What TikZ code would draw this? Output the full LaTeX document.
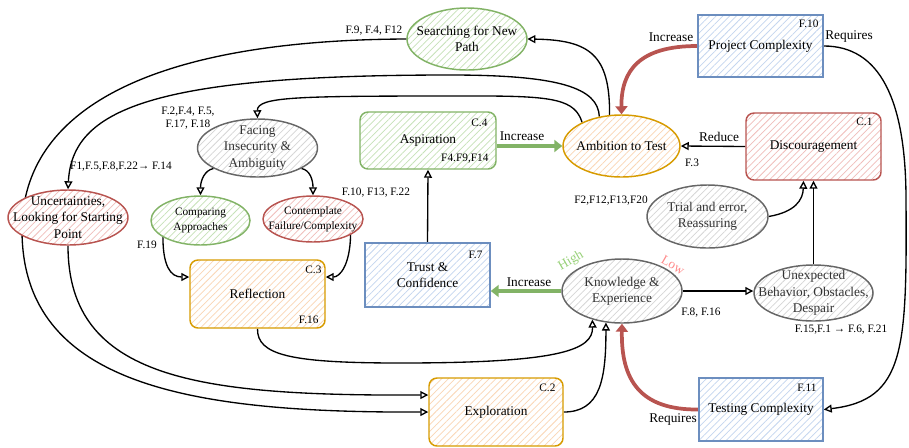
\documentclass[tikz,border=0pt]{standalone}
\usepackage{fontspec}
\setmainfont{Liberation Serif}
\usetikzlibrary{shapes.geometric,arrows.meta,patterns.meta,calc}
\pgfdeclarelayer{edgelayer}
\pgfsetlayers{edgelayer,main}
\definecolor{gS}{HTML}{82B366}
\definecolor{rS}{HTML}{B85450}
\definecolor{bS}{HTML}{6C8EBF}
\definecolor{oS}{HTML}{D79B00}
\definecolor{kS}{HTML}{666666}
\definecolor{gH}{HTML}{C6E2B8}
\definecolor{rH}{HTML}{F0BDBA}
\definecolor{bH}{HTML}{C4D6EF}
\definecolor{oH}{HTML}{FAD6B4}
\definecolor{kH}{HTML}{D6D6D6}
\definecolor{kT}{HTML}{333333}
\definecolor{hiC}{HTML}{97D077}
\definecolor{loC}{HTML}{FF8A8A}
\tikzset{
 hatch/.style={pattern={Lines[angle=45,distance=3.6pt,line width=0.55pt]}, pattern color=#1},
 shp/.style={line width=1.1pt, preaction={fill=white}, inner sep=0pt},
 ell/.style={shp, ellipse},
 box/.style={shp, rectangle},
 rbox/.style={shp, rectangle, rounded corners=6pt},
 gN/.style={draw=gS, hatch=gH},
 rN/.style={draw=rS, hatch=rH},
 bN/.style={draw=bS, hatch=bH},
 oN/.style={draw=oS, hatch=oH},
 kN/.style={draw=kS, hatch=kH},
 txt/.style={font=\fontsize{10}{12.3}\selectfont, align=center, inner sep=0pt},
 stxt/.style={font=\fontsize{8.5}{11.5}\selectfont, align=center, inner sep=0pt},
 ftxt/.style={font=\fontsize{8.5}{10}\selectfont, align=center, inner sep=0pt},
 lbl/.style={font=\fontsize{10}{12}\selectfont, inner sep=0pt},
 conn/.style={line width=1pt, -{Triangle[open,length=6pt,width=6pt]}},
 redge/.style={draw=rS, line width=2.8pt, -{Triangle[length=6pt,width=9pt]}},
 gedge/.style={draw=gS, line width=2.4pt, -{Triangle[length=6pt,width=9pt]}},
}
\begin{document}
\begin{tikzpicture}[x=0.75pt,y=-0.75pt]
\useasboundingbox (0,0) rectangle (909,447);
% nodes
\node[ell,gN,minimum width=90pt,minimum height=46.5pt] (srch) at (467,39) {};
\node[txt] (srcht) at (srch) {Searching for New\\Path};
\node[box,bN,minimum width=93.75pt,minimum height=46.5pt,txt] (pc) at (760.5,46) {Project Complexity};
\node[ell,oN,minimum width=87.75pt,minimum height=46.5pt] (amb) at (621.5,146) {};
\node[txt] (ambt) at (amb) {Ambition to Test};
\node[rbox,rN,minimum width=101.25pt,minimum height=50.25pt,txt] (disc) at (813.5,146.5) {Discouragement};
\node[rbox,gN,minimum width=102pt,minimum height=42.75pt,txt] (asp) at (428,140.5) {Aspiration};
\node[ell,kN,minimum width=90pt,minimum height=43.5pt] (face) at (257.5,148) {};
\node[txt,text=kT] (facet) at (face) {Facing\\Insecurity \&\\Ambiguity};
\node[ell,rN,minimum width=90pt,minimum height=41.25pt] (unc) at (68,217.5) {};
\node[txt] (unct) at (unc) {Uncertainties,\\Looking for Starting\\Point};
\node[ell,gN,minimum width=74.25pt,minimum height=36.75pt] (comp) at (200.5,220.5) {};
\node[stxt] (compt) at (comp) {Comparing\\Approaches};
\node[ell,rN,minimum width=75pt,minimum height=34.5pt] (cont) at (313,219) {};
\node[stxt] (contt) at (cont) {Contemplate\\Failure/Complexity};
\node[rbox,oN,minimum width=101.25pt,minimum height=51pt,txt] (refl) at (257.5,294) {Reflection};
\node[box,bN,minimum width=93.75pt,minimum height=48pt,txt] (trust) at (427.5,275) {Trust \&\\Confidence};
\node[ell,kN,minimum width=90pt,minimum height=48pt] (know) at (622,291) {};
\node[txt,text=kT] (knowt) at (know) {Knowledge \&\\Experience};
\node[ell,kN,minimum width=89.25pt,minimum height=42pt] (unex) at (813.5,293) {};
\node[txt,text=kT] (unext) at (unex) {Unexpected\\Behavior, Obstacles,\\Despair};
\node[ell,kN,minimum width=90.75pt,minimum height=47.25pt] (trial) at (707.5,216.5) {};
\node[txt,text=kT] (trialt) at (trial) {Trial and error,\\Reassuring};
\node[rbox,oN,minimum width=100.5pt,minimum height=51pt,txt] (expl) at (496,412) {Exploration};
\node[box,bN,minimum width=93pt,minimum height=47.25pt,txt] (tc) at (761,409.5) {Testing Complexity};
% corner labels
\node[ftxt,anchor=north east] (pcF) at ($(pc.north east)+(-5,5)$) {F.10};
\node[ftxt,anchor=north east] (discC) at ($(disc.north east)+(-9,5)$) {C.1};
\node[ftxt,anchor=north east] (aspC) at ($(asp.north east)+(-9,7)$) {C.4};
\node[ftxt,anchor=south east] (aspF) at ($(asp.south east)+(-8,-6)$) {F4.F9,F14};
\node[ftxt,anchor=north east] (reflC) at ($(refl.north east)+(-4,6)$) {C.3};
\node[ftxt,anchor=south east] (reflF) at ($(refl.south east)+(-7,-5)$) {F.16};
\node[ftxt,anchor=north east] (explC) at ($(expl.north east)+(-8,6)$) {C.2};
\node[ftxt,anchor=north east] (tcF) at ($(tc.north east)+(-7,6)$) {F.11};
\node[ftxt,anchor=north east] (trustF) at ($(trust.north east)+(-8,9)$) {F.7};
% edge labels
\node[ftxt] (l1) at (374,31) {F.9, F.4, F12};
\node[ftxt] (l2) at (188,118) {F.2,F.4, F.5,\\F.17, F.18};
\node[ftxt] (l3) at (121,167) {F1,F.5,F.8,F.22→ F.14};
\node[ftxt] (l4) at (376,193) {F.10, F13, F.22};
\node[ftxt] (l5) at (147,245) {F.19};
\node[ftxt] (l6) at (692,163) {F.3};
\node[lbl] (l7) at (719,137) {Reduce};
\node[lbl] (l8) at (671,37) {Increase};
\node[lbl] (l9) at (849,37) {Requires};
\node[lbl] (l10) at (522,136) {Increase};
\node[ftxt] (l11) at (611,201) {F2,F12,F13,F20};
\node[lbl,text=hiC,rotate=30] (l12) at (571,261) {High};
\node[lbl,text=loC,rotate=-30] (l13) at (673,265) {Low};
\node[lbl] (l14) at (529,282) {Increase};
\node[ftxt] (l15) at (701,313) {F.8, F.16};
\node[ftxt] (l16) at (841,330) {F.15,F.1 → F.6, F.21};
\node[lbl] (l17) at (673,419) {Requires};
% edges
\begin{pgfonlayer}{edgelayer}
\draw[conn] (srch.west) .. controls (150,40) and (22,110) .. (22,230) .. controls (22,385) and (190,413) .. (expl.west);
\draw[conn] (unc.south) .. controls (68,380) and (200,396) .. ($(expl.west)+(0,-17)$);
\draw[conn] (amb.111) .. controls (610,55) and (590,40) .. (srch.east);
\draw[conn] (amb.127) .. controls (598,88) and (560,75) .. (450,75) .. controls (150,75) and (72,110) .. (unc.north);
\draw[conn] (amb.149) .. controls (575,100) and (555,96) .. (480,96) .. controls (300,96) and (257,96) .. (face.north);
\draw[conn] (face.205) .. controls (205,170) and (200.5,180) .. (comp.north);
\draw[conn] (face.-25) .. controls (310,170) and (313,180) .. (cont.north);
\draw[conn] (comp.204) .. controls (163,265) and (170,277) .. ($(refl.west)+(0,-17)$);
\draw[conn] (cont.-23) .. controls (350,265) and (340,277) .. ($(refl.east)+(0,-17)$);
\draw[conn] (refl.south) .. controls (257,355) and (290,363) .. (400,363) .. controls (560,363) and (593,350) .. (know.224);
\draw[conn] (expl.east) .. controls (600,412) and (606,380) .. (know.243);
\draw[redge] (tc.west) .. controls (640,410) and (621,380) .. (know.south);
\draw[gedge] (know.west) -- (know.west -| trust.east);
\draw[conn] (know.east) -- (know.east -| unex.west);
\draw[conn] (unex.north) -- (disc.south);
\draw[conn] (trial.east) .. controls (795,212) and (803,200) .. ($(disc.south)+(-10,0)$);
\draw[conn] (trust.north) -- (asp.south);
\draw[gedge] (asp.east |- amb.west) -- (amb.west);
\draw[conn] (disc.west) -- (amb.east);
\draw[redge] (pc.west) .. controls (640,46) and (621,70) .. (amb.north);
\draw[conn] (pc.east) .. controls (880,46) and (906,100) .. (906,200) .. controls (907,350) and (905,400) .. (tc.east);
\end{pgfonlayer}
\end{tikzpicture}
\end{document}
